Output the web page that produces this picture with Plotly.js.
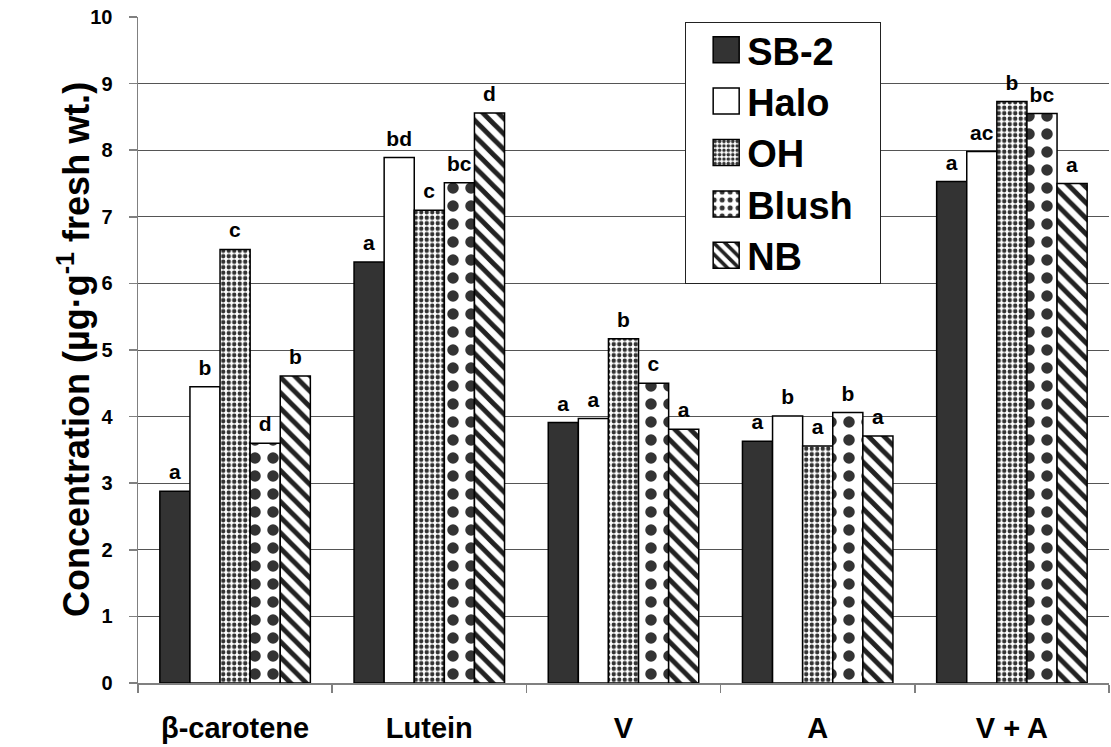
<!DOCTYPE html>
<html>
<head>
<meta charset="utf-8">
<script src="https://cdn.plot.ly/plotly-3.0.1.min.js"></script>
<style>html,body{margin:0;padding:0;background:#fff;}</style>
</head>
<body>
<div id="chart" style="width:1111px;height:747px;"></div>
<script>
// Carotenoid concentrations by pigment for five cultivars
const pigments = ['β-carotene', 'Lutein', 'V', 'A', 'V + A'];
const cultivars = ['SB-2', 'Halo', 'OH', 'Blush', 'NB'];

const sb2   = [2.88, 6.32, 3.91, 3.63, 7.53];
const halo  = [4.45, 7.89, 3.97, 4.01, 7.98];
const oh    = [6.51, 7.10, 5.17, 3.56, 8.73];
const blush = [3.60, 7.51, 4.50, 4.06, 8.55];
const nb    = [4.61, 8.56, 3.81, 3.71, 7.50];

// mean-separation letters
const sb2Letters   = ['a', 'a', 'a', 'a', 'a'];
const haloLetters  = ['b', 'bd', 'a', 'b', 'ac'];
const ohLetters    = ['c', 'c', 'b', 'a', 'b'];
const blushLetters = ['d', 'bc', 'c', 'b', 'bc'];
const nbLetters    = ['b', 'd', 'a', 'a', 'a'];

const yTitle = 'Concentration (µg·g<sup>-1</sup> fresh wt.)';

const FONT = 'Liberation Sans, Arial, Helvetica, sans-serif';
const DARK = '#333333';

const series = [
  {name: cultivars[0], y: sb2, text: sb2Letters,
   marker: {color: DARK}},
  {name: cultivars[1], y: halo, text: haloLetters,
   marker: {color: '#ffffff'}},
  {name: cultivars[2], y: oh, text: ohLetters,
   marker: {color: '#ffffff', pattern: {shape: '.', fgcolor: DARK, bgcolor: '#ffffff', size: 5.5, solidity: 0.5}}},
  {name: cultivars[3], y: blush, text: blushLetters,
   marker: {color: '#ffffff', pattern: {shape: '.', fgcolor: DARK, bgcolor: '#ffffff', size: 18, solidity: 0.32}}},
  {name: cultivars[4], y: nb, text: nbLetters,
   marker: {color: '#ffffff', pattern: {shape: '\\', fgcolor: '#222222', bgcolor: '#ffffff', size: 11, solidity: 0.45}}}
];

const traces = series.map(s => ({
  type: 'bar',
  name: s.name,
  x: pigments,
  y: s.y,
  text: s.text,
  textposition: 'outside',
  constraintext: 'none',
  cliponaxis: false,
  textfont: {family: FONT, size: 21, weight: 'bold', color: '#000'},
  marker: Object.assign({line: {color: '#000', width: 1.5}}, s.marker),
  hoverinfo: 'x+y+name'
}));

const layout = {
  width: 1111,
  height: 747,
  margin: {l: 138, r: 2, t: 17, b: 64},
  paper_bgcolor: '#ffffff',
  plot_bgcolor: '#ffffff',
  barmode: 'group',
  bargap: 0.225,
  bargroupgap: 0,
  showlegend: true,
  legend: {
    x: 0.563, y: 0.9925, xanchor: 'left', yanchor: 'top',
    bgcolor: '#ffffff', bordercolor: '#222', borderwidth: 1.5,
    font: {family: FONT, size: 38, weight: 'bold', color: '#000'},
    traceorder: 'normal'
  },
  xaxis: {
    type: 'category',
    showline: true, linecolor: '#808080', linewidth: 1.5,
    ticks: 'outside', tickson: 'boundaries', ticklen: 8, tickcolor: '#808080', tickwidth: 1.5,
    tickfont: {family: FONT, size: 29, weight: 'bold', color: '#000'},
    ticklabelstandoff: 19,
    showgrid: false, zeroline: false
  },
  yaxis: {
    range: [0, 10], dtick: 1,
    showline: true, linecolor: '#808080', linewidth: 1.5,
    ticks: 'outside', ticklen: 8, tickcolor: '#808080', tickwidth: 1.5,
    tickfont: {family: FONT, size: 20, weight: 'bold', color: '#000'},
    ticklabelstandoff: 12,
    showgrid: true, gridcolor: '#555555', gridwidth: 1,
    zeroline: false
  },
  annotations: [{
    text: yTitle, textangle: -90,
    xref: 'paper', yref: 'paper', x: -0.0659, y: 0.5,
    xanchor: 'center', yanchor: 'middle', showarrow: false,
    font: {family: FONT, size: 36, weight: 'bold', color: '#000'}
  }]
};

Plotly.newPlot('chart', traces, layout, {displayModeBar: false, staticPlot: true}).then(gd => {
  // lift the letters a little further above the bar tops
  gd.querySelectorAll('.barlayer text.bartext').forEach(t => {
    t.setAttribute('transform', 'translate(0,-5) ' + (t.getAttribute('transform') || ''));
  });

  // roomier legend: larger swatches, wider box, tighter rows
  const leg = gd.querySelector('.legend');
  if (!leg) return;
  const bg = leg.querySelector('rect.bg');
  if (bg) { bg.setAttribute('width', 195); bg.setAttribute('height', 261); }
  const box = leg.querySelector('.scrollbox');
  if (box) box.removeAttribute('clip-path');
  const items = Array.from(leg.querySelectorAll('.traces'));
  let y0 = null;
  items.forEach((g, i) => {
    const m = /translate\(([-\d.]+)[ ,]+([-\d.]+)\)/.exec(g.getAttribute('transform') || '');
    const tx = m ? parseFloat(m[1]) : 0;
    const ty = m ? parseFloat(m[2]) : 0;
    if (y0 === null) y0 = ty;
    g.setAttribute('transform', `translate(${tx},${y0 - 5 + 51.4 * i})`);
    g.querySelectorAll('.legendpoints path').forEach(p => {
      p.setAttribute('d', 'M13,13H-13V-13H13Z');
      p.setAttribute('transform', 'translate(40,0)');
    });
    const t = g.querySelector('text.legendtext');
    if (t) {
      t.setAttribute('x', parseFloat(t.getAttribute('x') || 0) + 21);
      t.querySelectorAll('tspan[x]').forEach(s => s.setAttribute('x', parseFloat(s.getAttribute('x')) + 21));
    }
  });
});
</script>
</body>
</html>
